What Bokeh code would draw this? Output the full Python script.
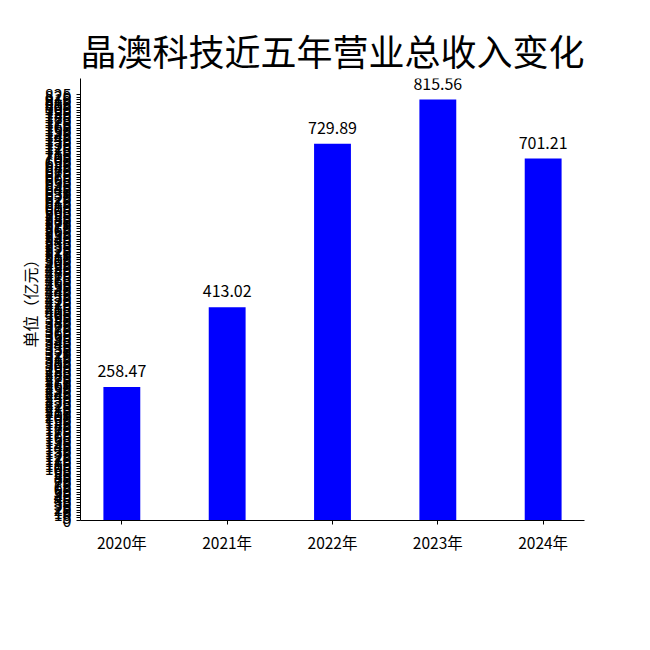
from bokeh.plotting import figure
from bokeh.models import Range1d, FixedTicker, ColumnDataSource
from bokeh.embed import file_html
from bokeh.resources import INLINE

# data
years = ["2020年", "2021年", "2022年", "2023年", "2024年"]
revenue = [258.47, 413.02, 729.89, 815.56, 701.21]
y_ticks = list(range(0, 830, 5))

FONT = "Noto Sans CJK SC"

xs = list(range(len(years)))
src = ColumnDataSource(dict(
    x=xs, top=revenue, label=["%.2f" % v for v in revenue]))

bar_w = 0.35
pad = (len(years) - 1 + bar_w) * 0.05
ymax = max(revenue) * 1.05

p = figure(frame_width=504, frame_height=442,
           min_border_left=80, min_border_right=50,
           min_border_top=78, min_border_bottom=114,
           x_range=Range1d(-bar_w / 2 - pad, len(years) - 1 + bar_w / 2 + pad),
           y_range=Range1d(0, ymax),
           output_backend="svg", toolbar_location=None,
           title="晶澳科技近五年营业总收入变化")

p.vbar(x="x", top="top", width=bar_w, bottom=0, source=src,
       fill_color="#0000ff", line_color=None)
p.text(x="x", y="top", text="label", source=src,
       text_align="center", text_baseline="bottom", y_offset=-10,
       text_font_size="16px", text_color="#000000",
       text_font={"value": FONT})

p.title.text_font = FONT
p.title.text_font_size = "36px"
p.title.text_font_style = "normal"
p.title.align = "center"
p.title.text_color = "#000000"
p.title.standoff = 6

p.outline_line_color = None
p.xgrid.grid_line_color = None
p.ygrid.grid_line_color = None
p.background_fill_color = "white"

xa = p.xaxis[0]
xa.ticker = FixedTicker(ticks=xs)
xa.major_label_overrides = {i: y for i, y in enumerate(years)}
xa.major_label_text_font = FONT
xa.major_label_text_font_size = "15.5px"
xa.major_label_text_color = "#000000"
xa.major_tick_out = 4
xa.major_tick_in = 0
xa.minor_tick_line_color = None
xa.axis_line_color = "#000000"
xa.major_label_standoff = 6

ya = p.yaxis[0]
ya.ticker = FixedTicker(ticks=y_ticks)
ya.major_label_text_font = FONT
ya.major_label_text_font_size = "16px"
ya.major_label_text_color = "#000000"
ya.major_tick_out = 4
ya.major_tick_in = 0
ya.minor_tick_line_color = None
ya.axis_line_color = "#000000"
ya.major_label_standoff = 5
ya.axis_label = "单位（亿元）"
ya.axis_label_text_font = FONT
ya.axis_label_text_font_size = "16px"
ya.axis_label_text_font_style = "normal"
ya.axis_label_text_color = "#000000"
ya.axis_label_standoff = 0

open("out.html", "w").write(file_html(p, INLINE))
